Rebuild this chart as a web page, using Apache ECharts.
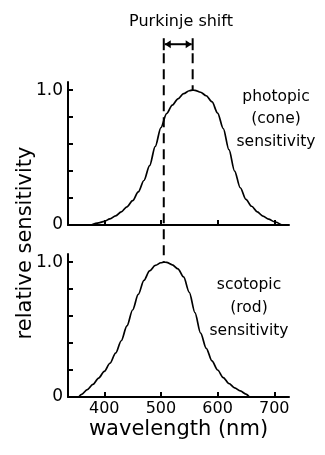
<!DOCTYPE html>
<html>
<head>
<meta charset="utf-8">
<script src="https://cdn.jsdelivr.net/npm/echarts@6/dist/echarts.min.js"></script>
<style>
  html, body { margin: 0; padding: 0; background: #fff; }
  #chart { width: 325px; height: 455px; }
</style>
</head>
<body>
<div id="chart"></div>
<script>
// Photopic (cone) relative sensitivity, wavelength in nm
const photopicWavelengths = [377, 390, 400, 410, 420, 430, 440, 450, 460, 470, 480, 490, 500, 510, 520, 530, 540, 550, 556, 560, 570, 580, 590, 600, 610, 620, 630, 640, 650, 660, 670, 680, 690, 700, 713];
const photopicValues      = [0.0, 0.016, 0.027, 0.045, 0.068, 0.098, 0.135, 0.18, 0.245, 0.33, 0.44, 0.583, 0.722, 0.826, 0.888, 0.935, 0.974, 0.995, 1.0, 0.998, 0.984, 0.958, 0.914, 0.83, 0.715, 0.558, 0.40, 0.276, 0.19, 0.139, 0.097, 0.066, 0.044, 0.024, 0.0];

// Scotopic (rod) relative sensitivity
const scotopicWavelengths = [355, 360, 370, 380, 390, 400, 410, 420, 430, 440, 450, 460, 470, 480, 490, 500, 505, 510, 520, 530, 540, 550, 560, 570, 580, 590, 600, 610, 620, 630, 640, 650, 656];
const scotopicValues      = [0.0, 0.02, 0.055, 0.093, 0.14, 0.19, 0.25, 0.325, 0.417, 0.527, 0.645, 0.76, 0.865, 0.935, 0.975, 0.995, 1.0, 0.998, 0.98, 0.95, 0.89, 0.776, 0.626, 0.474, 0.361, 0.268, 0.20, 0.144, 0.10, 0.068, 0.045, 0.022, 0.0];

// Axis ticks and labels
const wavelengthTicks = [400, 500, 600, 700];
const sensitivityTicks = [0, 0.2, 0.4, 0.6, 0.8, 1.0];
const sensitivityLabels = [0, 1.0];

// Peak wavelengths marked by the Purkinje shift guides
const scotopicPeak = 505;
const photopicPeak = 556;
const peakValue = 1.0;

const FONT = 'DejaVu Sans';
const INK = '#000';
const ARROW_LEVEL = 1.34;   // height of the shift arrow, in top-panel units

const pairs = (xs, ys) => xs.map((x, i) => [x, ys[i]]);

function xAxisFor(gridIndex, withLabels) {
  return {
    type: 'value', gridIndex, min: 336, max: 726,
    splitLine: { show: false },
    axisLine: { onZero: false, lineStyle: { color: INK, width: 2 } },
    axisTick: { inside: true, length: 5, customValues: wavelengthTicks, lineStyle: { color: INK, width: 2 } },
    axisLabel: withLabels
      ? { customValues: wavelengthTicks, color: INK, fontFamily: FONT, fontSize: 16, margin: 4 }
      : { show: false },
    name: withLabels ? 'wavelength (nm)' : '',
    nameLocation: 'middle', nameGap: 22,
    nameTextStyle: { color: INK, fontFamily: FONT, fontSize: 21 }
  };
}

function yAxisFor(gridIndex) {
  return {
    type: 'value', gridIndex, min: 0, max: 1.06,
    splitLine: { show: false },
    axisLine: { onZero: false, lineStyle: { color: INK, width: 2 } },
    axisTick: { inside: true, length: 5, customValues: sensitivityTicks, lineStyle: { color: INK, width: 2 } },
    axisLabel: {
      customValues: sensitivityLabels, color: INK, fontFamily: FONT, fontSize: 17, margin: 5,
      formatter: v => (v === 0 ? '0' : v.toFixed(1))
    }
  };
}

function curve(name, xs, ys, axisIndex) {
  return {
    name, type: 'line', xAxisIndex: axisIndex, yAxisIndex: axisIndex,
    data: pairs(xs, ys), smooth: 0.3, smoothMonotone: 'x', showSymbol: false, silent: true,
    lineStyle: { color: INK, width: 1.7 }
  };
}

const chart = echarts.init(document.getElementById('chart'), null, { renderer: 'canvas' });

chart.setOption({
  animation: false,
  backgroundColor: '#fff',
  grid: [
    { left: 68, width: 221, top: 82, height: 143 },
    { left: 68, width: 221, top: 254, height: 143 }
  ],
  xAxis: [xAxisFor(0, false), xAxisFor(1, true)],
  yAxis: [yAxisFor(0), yAxisFor(1)],
  series: [
    curve('photopic', photopicWavelengths, photopicValues, 0),
    curve('scotopic', scotopicWavelengths, scotopicValues, 1)
  ]
});

// Purkinje shift guides: dashed drops from the arrow to each peak
const [xRod, yArrow] = chart.convertToPixel({ gridIndex: 0 }, [scotopicPeak, ARROW_LEVEL]);
const [xCone, yConePeak] = chart.convertToPixel({ gridIndex: 0 }, [photopicPeak, peakValue]);
const [, yRodPeak] = chart.convertToPixel({ gridIndex: 1 }, [scotopicPeak, peakValue]);

const dash = { stroke: INK, lineWidth: 2, lineDash: [10, 6] };
const solid = { stroke: INK, lineWidth: 2 };
const head = 6, half = 4, cap = 6;

const textStyle = (text, x, y, size, lh) => ({
  type: 'text', x, y, silent: true,
  style: { text, fill: INK, font: `${size}px "${FONT}"`, align: 'center', verticalAlign: 'middle', lineHeight: lh }
});

chart.setOption({
  graphic: [
    { type: 'line', silent: true, shape: { x1: xRod, y1: yArrow + 9, x2: xRod, y2: yRodPeak }, style: dash },
    { type: 'line', silent: true, shape: { x1: xCone, y1: yArrow + 9, x2: xCone, y2: yConePeak }, style: dash },
    { type: 'line', silent: true, shape: { x1: xRod + 1, y1: yArrow, x2: xCone - 1, y2: yArrow }, style: solid },
    { type: 'line', silent: true, shape: { x1: xRod, y1: yArrow - cap, x2: xRod, y2: yArrow + cap }, style: solid },
    { type: 'line', silent: true, shape: { x1: xCone, y1: yArrow - cap, x2: xCone, y2: yArrow + cap }, style: solid },
    { type: 'polygon', silent: true, shape: { points: [[xRod + 1, yArrow], [xRod + 1 + head, yArrow - half], [xRod + 1 + head, yArrow + half]] }, style: { fill: INK } },
    { type: 'polygon', silent: true, shape: { points: [[xCone - 1, yArrow], [xCone - 1 - head, yArrow - half], [xCone - 1 - head, yArrow + half]] }, style: { fill: INK } },
    textStyle('Purkinje shift', 181, 22, 16, 20),
    textStyle('photopic\n(cone)\nsensitivity', 276, 119, 15.5, 22.5),
    textStyle('scotopic\n(rod)\nsensitivity', 249, 308, 15.5, 23),
    {
      type: 'text', x: 26, y: 243, rotation: Math.PI / 2, silent: true,
      style: { text: 'relative sensitivity', fill: INK, font: `21px "${FONT}"`, align: 'center', verticalAlign: 'middle' }
    }
  ]
});
</script>
</body>
</html>
